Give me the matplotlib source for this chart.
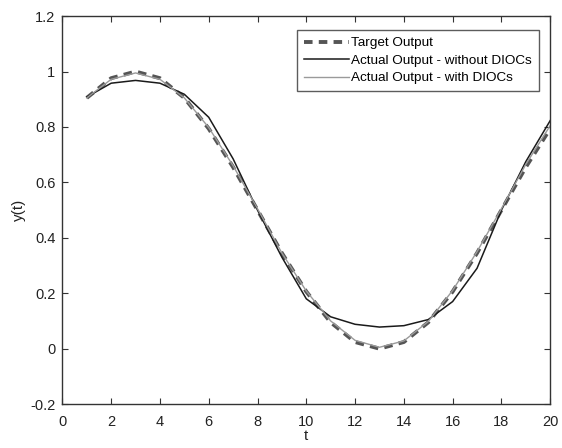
import numpy as np
import matplotlib
matplotlib.use("Agg")
import matplotlib.pyplot as plt

plt.rcParams['font.family'] = ['Liberation Sans', 'DejaVu Sans']

t = np.arange(1, 21)
target = [0.905, 0.976, 1.0, 0.976, 0.905, 0.794, 0.655, 0.5, 0.345, 0.206,
          0.095, 0.024, 0.0, 0.024, 0.095, 0.206, 0.345, 0.5, 0.655, 0.794]
no_dioc = [0.908, 0.958, 0.968, 0.958, 0.918, 0.835, 0.685, 0.5, 0.33, 0.18,
           0.115, 0.088, 0.078, 0.083, 0.105, 0.17, 0.29, 0.5, 0.675, 0.823]
with_dioc = [0.905, 0.972, 0.995, 0.972, 0.905, 0.798, 0.66, 0.505, 0.345, 0.208,
             0.1, 0.03, 0.005, 0.028, 0.098, 0.21, 0.35, 0.505, 0.665, 0.805]

fig = plt.figure(figsize=(5.62, 4.48), dpi=100)
ax = fig.add_axes([0.111, 0.098, 0.868, 0.866])

ax.plot(t, target, '--', color='#555555', lw=2.8, dashes=(2.2, 1.6), label='Target Output')
ax.plot(t, no_dioc, '-', color='#1a1a1a', lw=1.1, label='Actual Output - without DIOCs')
ax.plot(t, with_dioc, '-', color='#9a9a9a', lw=1.0, label='Actual Output - with DIOCs')

ax.set_xlim(0, 20)
ax.set_ylim(-0.2, 1.2)
ax.set_xticks(range(0, 21, 2))
ax.set_yticks([-0.2, 0, 0.2, 0.4, 0.6, 0.8, 1, 1.2])
ax.set_yticklabels(['-0.2', '0', '0.2', '0.4', '0.6', '0.8', '1', '1.2'])
ax.tick_params(direction='in', top=True, right=True, length=4, width=0.8,
               colors='#333333', labelsize=10.5, labelcolor='#222222')
ax.tick_params(axis='x', pad=8)
ax.tick_params(axis='y', pad=5)
for s in ax.spines.values():
    s.set_color('#333333')
    s.set_linewidth(1.0)

ax.set_xlabel('t', fontsize=11, labelpad=0, color='#222222')
ax.set_ylabel('y(t)', fontsize=11, labelpad=3, color='#222222')

leg = ax.legend(loc='upper right', bbox_to_anchor=(0.977, 0.964), fontsize=9.7,
                frameon=True, fancybox=False, handlelength=3.4, handletextpad=0.15,
                borderpad=0.5, labelspacing=0.38, borderaxespad=0)
leg.get_frame().set_edgecolor('#333333')
leg.get_frame().set_linewidth(1.0)

fig.savefig('out.png', dpi=100)
